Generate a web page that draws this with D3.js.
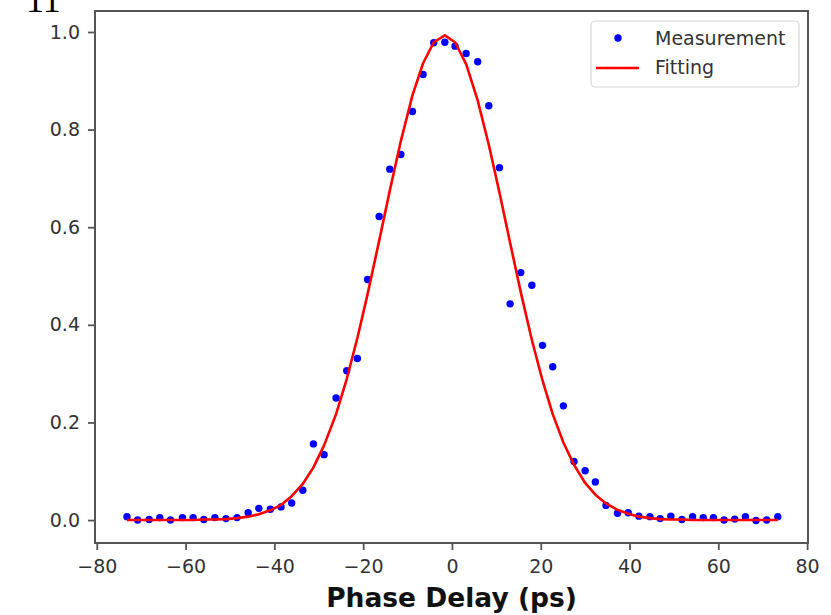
<!DOCTYPE html>
<html>
<head>
<meta charset="utf-8">
<script src="https://cdn.jsdelivr.net/npm/d3@7"></script>
<style>
  body { margin: 0; background: #fff; }
  svg { display: block; }
</style>
</head>
<body>
<svg width="831" height="615"></svg>
<script>
// phase delay (ps) of each sample
var delays = [-73.2, -70.8, -68.2, -65.8, -63.4, -60.7, -58.3, -55.9, -53.4, -50.9,
  -48.4, -45.9, -43.5, -40.9, -38.5, -36.1, -33.6, -31.2, -28.8, -26.1,
  -23.7, -21.3, -19.0, -16.4, -14.0, -11.5, -8.9, -6.5, -4.1, -1.6,
  0.7, 3.2, 5.8, 8.3, 10.7, 13.1, 15.5, 18.0, 20.4, 22.7,
  25.1, 27.5, 30.0, 32.3, 34.7, 37.3, 39.7, 42.1, 44.6, 46.9,
  49.3, 51.8, 54.2, 56.6, 58.9, 61.3, 63.7, 66.1, 68.5, 70.9, 73.4];

// measured values
var measured = [0.007, 0.000, 0.001, 0.005, 0.000, 0.005, 0.005, 0.001, 0.005, 0.003,
  0.005, 0.015, 0.024, 0.022, 0.027, 0.035, 0.061, 0.156, 0.134, 0.250,
  0.306, 0.331, 0.493, 0.622, 0.719, 0.749, 0.837, 0.913, 0.978, 0.979,
  0.971, 0.956, 0.939, 0.849, 0.722, 0.443, 0.507, 0.481, 0.358, 0.314,
  0.234, 0.120, 0.101, 0.078, 0.030, 0.014, 0.015, 0.008, 0.007, 0.003,
  0.008, 0.001, 0.007, 0.005, 0.005, 0.000, 0.002, 0.007, -0.001, 0.000, 0.007];

// fitted curve, read at the same delays
var fitted = [0.000, 0.000, 0.000, 0.000, 0.000, 0.000, 0.000, 0.001, 0.001, 0.002,
  0.004, 0.007, 0.012, 0.020, 0.031, 0.049, 0.074, 0.108, 0.153, 0.217,
  0.289, 0.373, 0.463, 0.572, 0.675, 0.777, 0.870, 0.936, 0.979, 0.993,
  0.979, 0.934, 0.860, 0.769, 0.671, 0.568, 0.467, 0.369, 0.286, 0.217,
  0.159, 0.113, 0.076, 0.052, 0.034, 0.021, 0.013, 0.007, 0.004, 0.002,
  0.001, 0.001, 0.000, 0.000, 0.000, 0.000, 0.000, 0.000, 0.000, 0.000, 0.000];

var xTicks = [-80, -60, -40, -20, 0, 20, 40, 60, 80];
var yTicks = [0.0, 0.2, 0.4, 0.6, 0.8, 1.0];

var LEFT = 95, RIGHT = 808, TOP = 11, BOTTOM = 543;
var FONT = '"DejaVu Sans", sans-serif';

var svg = d3.select('svg');
svg.append('rect').attr('width', 831).attr('height', 615).attr('fill', '#fff');

// fragment of text above the figure
svg.append('text')
  .attr('x', 26).attr('y', 12)
  .style('font-family', '"Liberation Serif", serif')
  .style('font-size', '36px')
  .attr('fill', '#000')
  .text('11');

var x = d3.scaleLinear().domain([-80.4, 80.2]).range([LEFT, RIGHT]);
var y = d3.scaleLinear().domain([-0.047, 1.043]).range([BOTTOM, TOP]);

var points = delays.map(function (d, i) {
  return { x: d, m: measured[i], f: fitted[i] };
});

// axes
var xAxis = svg.append('g')
  .attr('transform', 'translate(0,' + BOTTOM + ')')
  .call(d3.axisBottom(x).tickValues(xTicks).tickFormat(d3.format('d'))
    .tickSize(7).tickPadding(10));
var yAxis = svg.append('g')
  .attr('transform', 'translate(' + LEFT + ',0)')
  .call(d3.axisLeft(y).tickValues(yTicks).tickFormat(d3.format('.1f'))
    .tickSize(7).tickPadding(8));

[xAxis, yAxis].forEach(function (g) {
  g.select('.domain').remove();
  g.selectAll('line').attr('stroke', '#555').attr('stroke-width', 1.8);
  g.selectAll('text')
    .style('font-family', FONT)
    .style('font-size', '19px')
    .attr('fill', '#333');
});

// measurement dots
svg.append('g').selectAll('circle')
  .data(points)
  .enter().append('circle')
  .attr('cx', function (d) { return x(d.x); })
  .attr('cy', function (d) { return y(d.m); })
  .attr('r', 3.7)
  .attr('fill', '#0000ff');

// fitting line
var line = d3.line()
  .x(function (d) { return x(d.x); })
  .y(function (d) { return y(d.f); });
svg.append('path')
  .datum(points)
  .attr('d', line)
  .attr('fill', 'none')
  .attr('stroke', '#ff0000')
  .attr('stroke-width', 2.6)
  .attr('stroke-linejoin', 'round');

// frame
svg.append('rect')
  .attr('x', LEFT).attr('y', TOP)
  .attr('width', RIGHT - LEFT).attr('height', BOTTOM - TOP)
  .attr('fill', 'none')
  .attr('stroke', '#555')
  .attr('stroke-width', 2);

// legend
var legend = svg.append('g');
legend.append('rect')
  .attr('x', 591).attr('y', 21).attr('width', 208).attr('height', 66).attr('rx', 4)
  .attr('fill', '#fff').attr('stroke', '#d6d6d6').attr('stroke-width', 1.2);
legend.append('circle')
  .attr('cx', 618).attr('cy', 38).attr('r', 3.7).attr('fill', '#0000ff');
legend.append('line')
  .attr('x1', 596).attr('x2', 639).attr('y1', 68).attr('y2', 68)
  .attr('stroke', '#ff0000').attr('stroke-width', 2.6);
legend.selectAll('text.lab')
  .data(['Measurement', 'Fitting'])
  .enter().append('text')
  .attr('class', 'lab')
  .attr('x', 655)
  .attr('y', function (d, i) { return i ? 74 : 45; })
  .style('font-family', FONT)
  .style('font-size', '19px')
  .attr('fill', '#333')
  .text(function (d) { return d; });

// x label
svg.append('text')
  .attr('x', (LEFT + RIGHT) / 2).attr('y', 607)
  .attr('text-anchor', 'middle')
  .style('font-family', FONT)
  .style('font-size', '26.5px')
  .style('font-weight', 'bold')
  .attr('fill', '#111')
  .text('Phase Delay (ps)');
</script>
</body>
</html>
